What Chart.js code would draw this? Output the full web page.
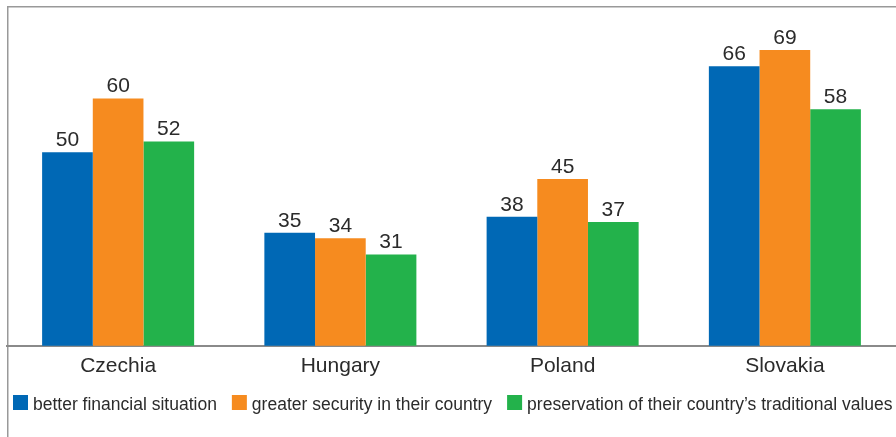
<!DOCTYPE html>
<html><head><meta charset="utf-8">
<script src="https://cdn.jsdelivr.net/npm/chart.js@4.4.1/dist/chart.umd.min.js"></script>
<style>html,body{margin:0;padding:0;background:#fff;} #wrap{width:896px;height:437px;position:relative;}</style>
</head><body><div id="wrap"><canvas id="c" width="896" height="437"></canvas></div>
<script>
const categories = ['Czechia', 'Hungary', 'Poland', 'Slovakia'];
const seriesNames = ['better financial situation', 'greater security in their country', 'preservation of their country\u2019s traditional values'];
const financial = [50, 35, 38, 66];
const security = [60, 34, 45, 69];
const traditional = [52, 31, 37, 58];
const seriesColors = ['#0068B5', '#F68B1F', '#23B24B'];
const textColor = '#2b2b2b';
const FONT = '"Liberation Sans", Arial, Helvetica, sans-serif';

const framePlugin = {
  id: 'frame',
  beforeDraw(chart) {
    const ctx = chart.ctx;
    ctx.save();
    ctx.fillStyle = '#fff';
    ctx.fillRect(0, 0, chart.width, chart.height);
    ctx.fillStyle = '#999999';
    ctx.fillRect(7, 6, chart.width - 7, 1.5);
    ctx.fillRect(7, 6, 1.5, chart.height - 6);
    ctx.restore();
  }
};

const valueLabels = {
  id: 'valueLabels',
  afterDatasetsDraw(chart) {
    const ctx = chart.ctx;
    ctx.save();
    ctx.font = '21px ' + FONT;
    ctx.fillStyle = textColor;
    ctx.textAlign = 'center';
    ctx.textBaseline = 'alphabetic';
    chart.data.datasets.forEach((ds, i) => {
      const meta = chart.getDatasetMeta(i);
      meta.data.forEach((bar, j) => {
        ctx.fillText(String(ds.data[j]), bar.x, bar.y - 6);
      });
    });
    ctx.restore();
  }
};

const customLegend = {
  id: 'customLegend',
  afterDraw(chart) {
    const ctx = chart.ctx;
    ctx.save();
    ctx.font = '17.5px ' + FONT;
    ctx.textBaseline = 'alphabetic';
    ctx.textAlign = 'left';
    let x = 13;
    const boxTop = 395, box = 15;
    chart.data.datasets.forEach((ds) => {
      ctx.fillStyle = ds.backgroundColor;
      ctx.fillRect(x, boxTop, box, box);
      x += box + 5;
      ctx.fillStyle = textColor;
      ctx.fillText(ds.label, x, 409.5);
      x += ctx.measureText(ds.label).width + 15;
    });
    ctx.restore();
  }
};

const datasets = [financial, security, traditional].map((d, i) => ({
  label: seriesNames[i],
  data: d,
  backgroundColor: seriesColors[i],
  borderWidth: 0,
  barPercentage: 1.0,
  categoryPercentage: 0.684
}));

new Chart(document.getElementById('c'), {
  type: 'bar',
  data: { labels: categories, datasets },
  plugins: [framePlugin, valueLabels, customLegend],
  options: {
    responsive: false,
    animation: false,
    devicePixelRatio: 1,
    layout: { padding: { left: 7, right: 0, top: 7, bottom: 50 } },
    plugins: { legend: { display: false }, tooltip: { enabled: false } },
    scales: {
      x: {
        grid: { display: false, drawTicks: false },
        border: { display: true, color: '#8a8a8a', width: 2 },
        ticks: { color: textColor, font: { family: FONT, size: 21 }, padding: 8 }
      },
      y: {
        display: false,
        min: 14,
        max: 77
      }
    }
  }
});
</script>
</body></html>
